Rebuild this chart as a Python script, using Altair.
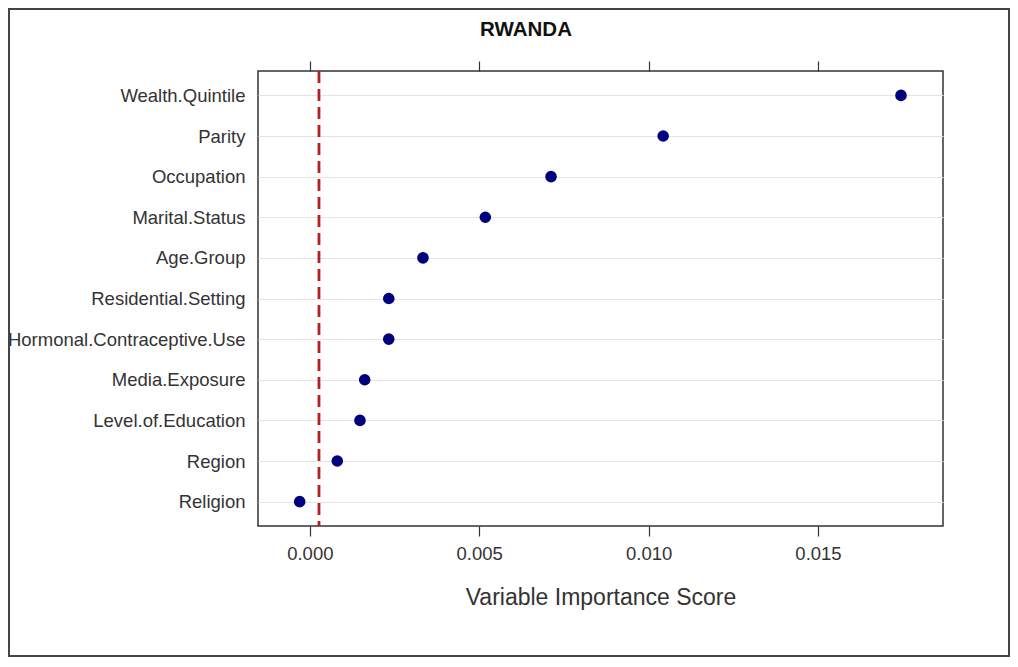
import altair as alt
import pandas as pd

variables = [
    "Wealth.Quintile", "Parity", "Occupation", "Marital.Status", "Age.Group",
    "Residential.Setting", "Hormonal.Contraceptive.Use", "Media.Exposure",
    "Level.of.Education", "Region", "Religion",
]
scores = [0.01745, 0.01043, 0.00712, 0.00518, 0.00334, 0.00233, 0.00233,
          0.00162, 0.00148, 0.00081, -0.00030]
threshold = [0.00027]
tick_values = [0.0, 0.005, 0.010, 0.015]
x_domain = [-0.00153, 0.01869]

df = pd.DataFrame({"var": variables, "score": scores})
thr_df = pd.DataFrame({"thr": threshold})

FONT = "Liberation Sans"
xscale = alt.Scale(domain=x_domain, nice=False, zero=False)

points = alt.Chart(df).mark_circle(size=135, color="#00007F", opacity=1).encode(
    x=alt.X("score:Q", scale=xscale,
            axis=alt.Axis(orient="bottom", values=tick_values, format=".3f",
                          tickSize=10, tickColor="#333", tickWidth=1.2,
                          labelPadding=8, labelFontSize=18.5, labelFont=FONT,
                          labelColor="#333", title="Variable Importance Score",
                          titleFont=FONT, titleFontSize=23, titleFontWeight="normal",
                          titleColor="#333", titlePadding=24, grid=False, domain=False)),
    y=alt.Y("var:N", sort=variables, scale=alt.Scale(type="point", padding=0.6),
            axis=alt.Axis(title=None, grid=True, gridColor="#e4e4e4", gridWidth=1.2,
                          ticks=False, domain=False, labelPadding=13, labelLimit=400,
                          labelFontSize=18.5, labelFont=FONT, labelColor="#333")),
)

rule = alt.Chart(thr_df).mark_rule(color="#B22222", strokeDash=[12, 6], strokeWidth=2.8).encode(
    x=alt.X("thr:Q", scale=xscale,
            axis=alt.Axis(orient="top", values=tick_values, labels=False, title=None,
                          tickSize=10, tickColor="#333", tickWidth=1.2,
                          grid=False, domain=False)),
)

frame = alt.Chart(pd.DataFrame({"a": [0]})).mark_rect(
    fillOpacity=0, stroke="#444", strokeWidth=2
).encode(x=alt.value(-249), x2=alt.value(751), y=alt.value(-62), y2=alt.value(585))

title = alt.Chart(pd.DataFrame({"t": ["RWANDA"]})).mark_text(
    font=FONT, fontSize=20.5, fontWeight="bold", color="#111", baseline="middle", align="center"
).encode(text="t:N", x=alt.value(268), y=alt.value(-41))

chart = alt.layer(frame, rule, points, title).resolve_scale(x="shared").resolve_axis(
    x="independent"
).properties(
    width=685, height=455,
    autosize=alt.AutoSizeParams(type="none"),
    padding={"left": 250, "top": 63, "right": 67, "bottom": 132},
    background="white",
).configure_view(stroke="#333", strokeWidth=1.5)

chart.save("out.html", embed_options={"renderer": "svg", "actions": False})
